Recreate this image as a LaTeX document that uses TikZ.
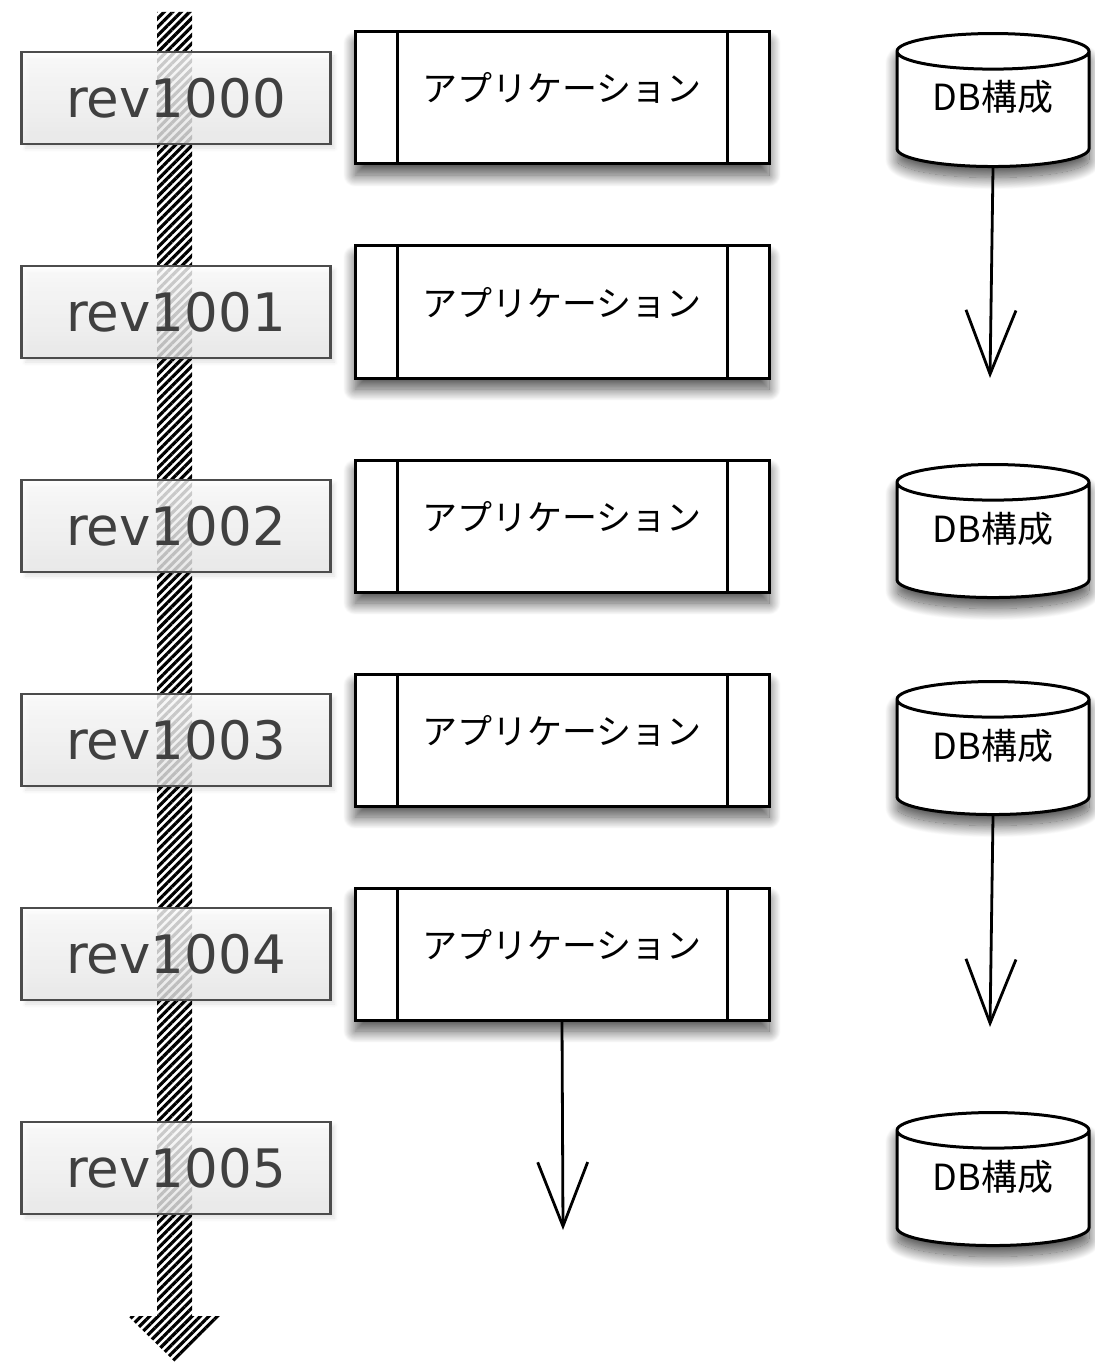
\documentclass[tikz,border=0pt]{standalone}
\usepackage{fontspec}
\newfontfamily\revfont{DejaVu Sans}
\newfontfamily\jpfont{Noto Sans CJK JP}
\usetikzlibrary{
  arrows.meta,
  shapes.geometric,
  patterns.meta,
  shadows.blur,
  positioning
}

\begin{document}
\begin{tikzpicture}[x=1pt,y=-1pt,
      revision/.style={
         rectangle,
         minimum width=309pt,
         minimum height=92pt,
         line width=2.5pt,
         draw=black!70,
         top color=white,
         bottom color=black!8,
         fill opacity=0.8,
         text opacity=1,
         draw opacity=1,
         blur shadow={shadow xshift=4pt,shadow yshift=-4pt,shadow opacity=15,shadow blur radius=4pt},
         font=\revfont\fontsize{53}{60}\selectfont,
         text=black!75
      },
      drop/.style={
         blur shadow={shadow xshift=0pt,shadow yshift=-11pt,shadow opacity=70,
                      shadow blur radius=12pt,shadow blur steps=30}
      },
      application/.style={
         rectangle,
         minimum width=414pt,
         minimum height=132pt,
         line width=3pt,
         draw=black,
         fill=white,
         text height=30pt,
         text depth=22pt,
         font=\jpfont\fontsize{35}{40}\selectfont,
         drop,
         path picture={
            \draw[line width=3pt]
               ([xshift=42pt]path picture bounding box.north west) -- ([xshift=42pt]path picture bounding box.south west)
               ([xshift=-42pt]path picture bounding box.north east) -- ([xshift=-42pt]path picture bounding box.south east);
         }
      },
      database/.style={
         cylinder,
         shape border rotate=90,
         aspect=0.28,
         minimum width=192pt,
         minimum height=133pt,
         line width=3pt,
         draw=black,
         fill=white,
         text height=32pt,
         text depth=34pt,
         font=\jpfont\fontsize{36}{40}\selectfont,
         drop
      },
      flow/.style={
         line width=2.8pt,
         -{Straight Barb[length=64pt,width=50pt]}
      },
      timeline/.style={
         pattern={Lines[angle=45,distance=6pt,line width=3.2pt]}
      }
    ]
    \useasboundingbox (0,0) rectangle (1094,1364);

    % time axis
    \fill[timeline] (157,12) -- (192,12) -- (192,1316) -- (222,1316)
       -- (175,1362) -- (128,1316) -- (157,1316) -- cycle;

    % revisions
    \node (rev0) [revision] at (176,98)   {rev1000};
    \node (rev1) [revision] at (176,312)  {rev1001};
    \node (rev2) [revision] at (176,526)  {rev1002};
    \node (rev3) [revision] at (176,740)  {rev1003};
    \node (rev4) [revision] at (176,954)  {rev1004};
    \node (rev5) [revision] at (176,1168) {rev1005};

    % applications
    \node (app0) [application] at (562,98)  {アプリケーション};
    \node (app1) [application] at (562,312) {アプリケーション};
    \node (app2) [application] at (562,526) {アプリケーション};
    \node (app3) [application] at (562,740) {アプリケーション};
    \node (app4) [application] at (562,954) {アプリケーション};

    % databases
    \node (db0) [database] at (993,112)  {DB構成};
    \node (db2) [database] at (993,543)  {DB構成};
    \node (db3) [database] at (993,760)  {DB構成};
    \node (db5) [database] at (993,1191) {DB構成};

    \coordinate (dbend0)  at (990,378);
    \coordinate (dbend3)  at (990,1027);
    \coordinate (append4) at (563,1230);

    \draw[flow] (db0.south)  -- (dbend0);
    \draw[flow] (db3.south)  -- (dbend3);
    \draw[flow] (app4.south) -- (append4);
\end{tikzpicture}
\end{document}
